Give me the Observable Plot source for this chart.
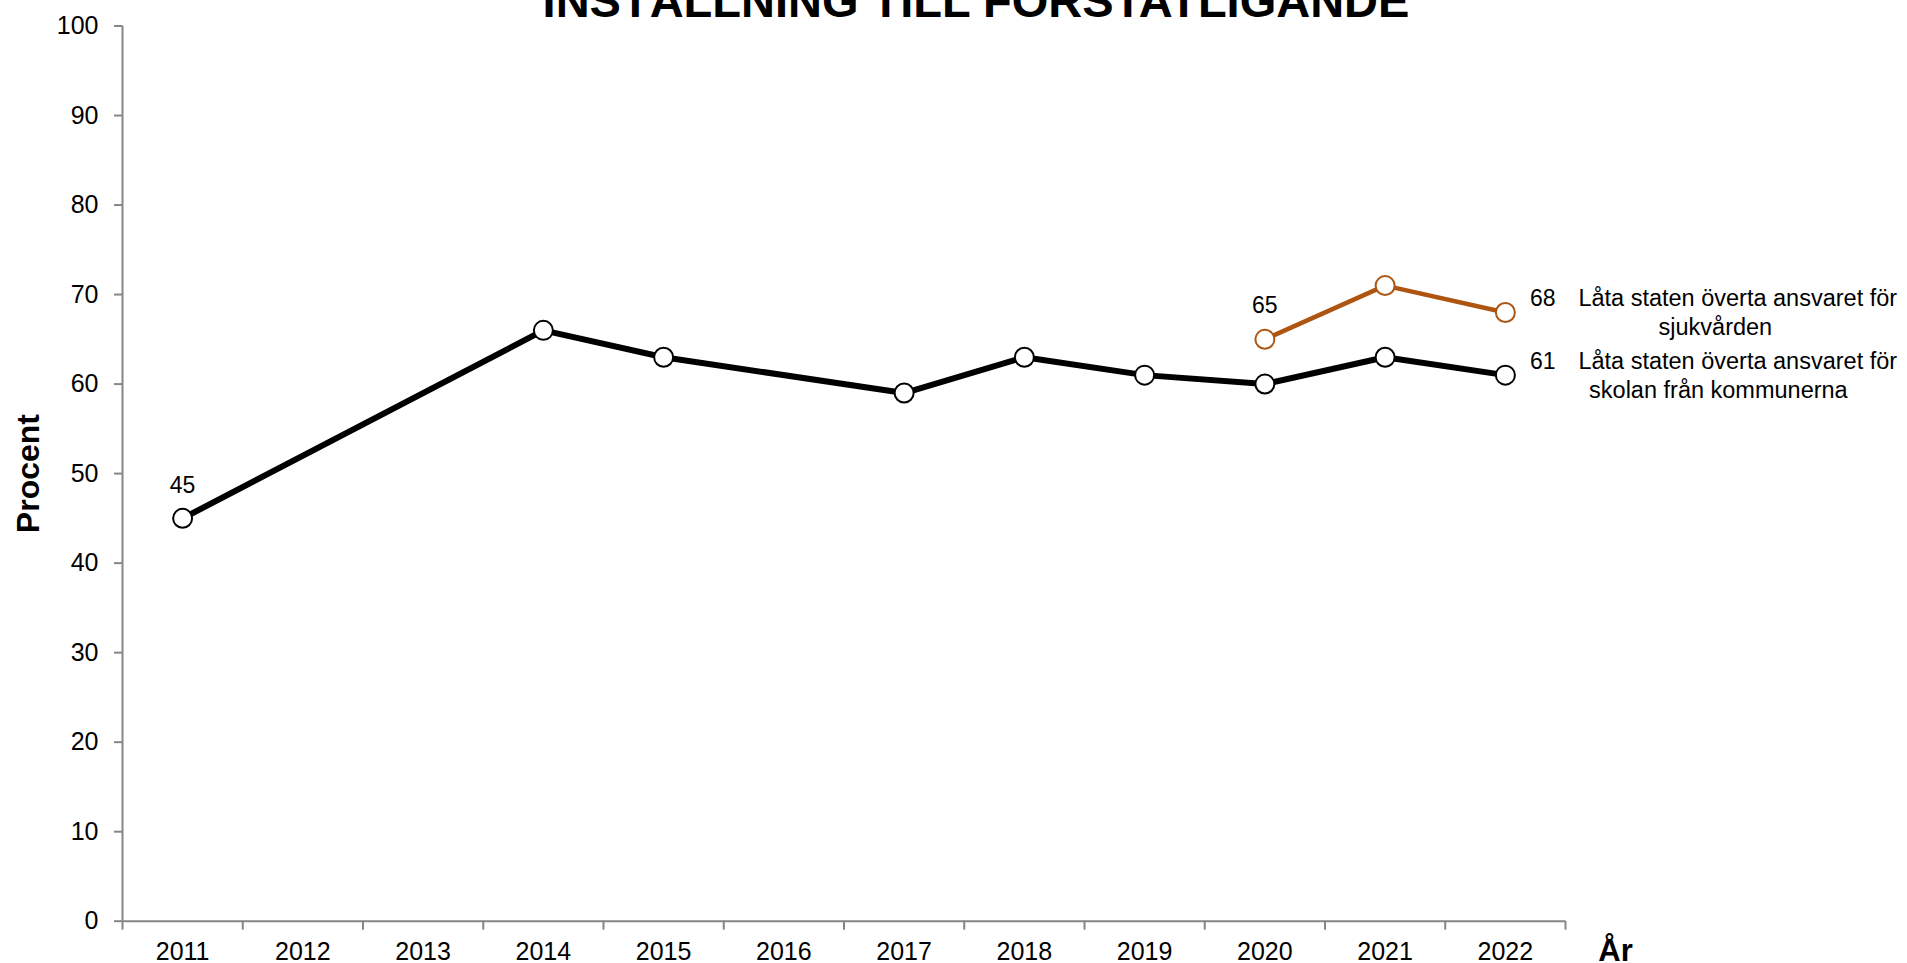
<!DOCTYPE html>
<html>
<head>
<meta charset="utf-8">
<script src="https://cdn.jsdelivr.net/npm/d3@7"></script>
<script src="https://cdn.jsdelivr.net/npm/@observablehq/plot@0.6"></script>
<style>
  html, body { margin: 0; padding: 0; background: #fff; overflow: hidden; }
  #chart svg { display: block; }
</style>
</head>
<body>
<div id="chart"></div>
<script>
const titleText = "INSTÄLLNING TILL FÖRSTATLIGANDE";
const yLabel = "Procent";
const xLabel = "År";
const years = [2011, 2012, 2013, 2014, 2015, 2016, 2017, 2018, 2019, 2020, 2021, 2022];
const yTicks = [0, 10, 20, 30, 40, 50, 60, 70, 80, 90, 100];

const skolanYears = [2011, 2014, 2015, 2017, 2018, 2019, 2020, 2021, 2022];
const skolanValues = [45, 66, 63, 59, 63, 61, 60, 63, 61];
const sjukYears = [2020, 2021, 2022];
const sjukValues = [65, 71, 68];

const seriesLine1 = ["Låta staten överta ansvaret för", "Låta staten överta ansvaret för"];
const seriesLine2 = ["sjukvården", "skolan från kommunerna"];

const gray = "#868686";
const orange = "#AD5511";

const skolan = skolanYears.map((x, i) => ({year: x, value: skolanValues[i]}));
const sjuk = sjukYears.map((x, i) => ({year: x, value: sjukValues[i]}));
const bounds = years.map(y => y - 0.5).concat([years[years.length - 1] + 0.5]);

const first = arr => [arr[0]];
const last = arr => [arr[arr.length - 1]];

const font = "'Liberation Sans', Arial, sans-serif";

const chart = Plot.plot({
  width: 1907,
  height: 963,
  marginLeft: 122,
  marginRight: 342,
  marginTop: 25.5,
  marginBottom: 42.3,
  style: {fontFamily: font, background: "white", overflow: "visible"},
  x: {domain: [bounds[0], bounds[bounds.length - 1]], label: null},
  y: {domain: [0, 100], label: null},
  marks: [
    Plot.axisY({ticks: yTicks, tickSize: 8, tickPadding: 16, fontSize: 25, stroke: gray, strokeWidth: 2, fill: "black", label: null}),
    Plot.axisX({ticks: bounds, tickSize: 9, tickFormat: () => "", stroke: gray, strokeWidth: 2, label: null}),
    Plot.axisX({ticks: years, tickSize: 0, tickPadding: 21.5, fontSize: 25, fill: "black", tickFormat: d => String(d), label: null}),
    Plot.ruleX([bounds[0]], {stroke: gray, strokeWidth: 2}),
    Plot.ruleY([0], {stroke: gray, strokeWidth: 2}),
    Plot.line(skolan, {x: "year", y: "value", stroke: "black", strokeWidth: 6}),
    Plot.line(sjuk, {x: "year", y: "value", stroke: orange, strokeWidth: 4.5}),
    Plot.dot(skolan, {x: "year", y: "value", r: 9.5, fill: "white", stroke: "black", strokeWidth: 2}),
    Plot.dot(sjuk, {x: "year", y: "value", r: 9.5, fill: "white", stroke: orange, strokeWidth: 2}),
    // first-point value labels
    Plot.text(first(skolan), {x: "year", y: "value", text: d => String(d.value), lineAnchor: "bottom", dy: -25, fontSize: 23, fill: "black"}),
    Plot.text(first(sjuk), {x: "year", y: "value", text: d => String(d.value), lineAnchor: "bottom", dy: -26, fontSize: 23, fill: "black"}),
    // last-point value labels
    Plot.text(last(sjuk), {x: "year", y: "value", text: d => String(d.value), textAnchor: "start", dx: 24.5, dy: -14, fontSize: 23, fill: "black"}),
    Plot.text(last(skolan), {x: "year", y: "value", text: d => String(d.value), textAnchor: "start", dx: 24.5, dy: -14, fontSize: 23, fill: "black"}),
    // series names
    Plot.text(last(sjuk), {x: "year", y: "value", text: () => seriesLine1[0], textAnchor: "start", dx: 73, dy: -14, fontSize: 23.5, fill: "black"}),
    Plot.text(last(sjuk), {x: "year", y: "value", text: () => seriesLine2[0], textAnchor: "middle", dx: 210, dy: 15, fontSize: 23.5, fill: "black"}),
    Plot.text(last(skolan), {x: "year", y: "value", text: () => seriesLine1[1], textAnchor: "start", dx: 73, dy: -14, fontSize: 23.5, fill: "black"}),
    Plot.text(last(skolan), {x: "year", y: "value", text: () => seriesLine2[1], textAnchor: "middle", dx: 213, dy: 15, fontSize: 23.5, fill: "black"}),
    // axis titles
    Plot.text([yLabel], {frameAnchor: "left", text: d => d, rotate: -90, dx: -94, fontSize: 32, fontWeight: "bold", textAnchor: "middle", fill: "black"}),
    Plot.text([xLabel], {frameAnchor: "bottom-right", text: d => d, dx: 50, dy: 39.3, lineAnchor: "bottom", textAnchor: "middle", fontSize: 31, fontWeight: "bold", fill: "black"}),
    // title (cut off at the top as in the reference)
    Plot.text([titleText], {frameAnchor: "top", text: d => d, dx: 132, dy: -9, lineAnchor: "bottom", fontSize: 47, fontWeight: "bold", fill: "black"})
  ]
});
document.getElementById("chart").appendChild(chart);
</script>
</body>
</html>
